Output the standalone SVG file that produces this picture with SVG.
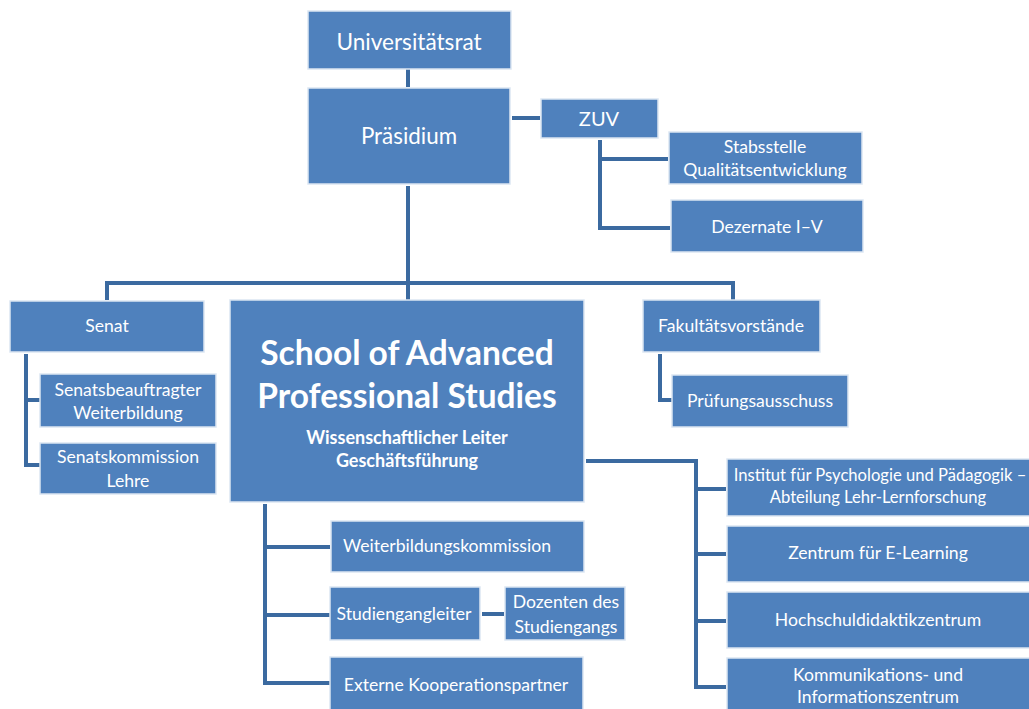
<svg xmlns="http://www.w3.org/2000/svg" width="1029" height="709" viewBox="0 0 1029 709">
<style>
.box{fill:#4F81BD;stroke:#DCE6F2;stroke-width:1.5}
.t{font-family:Lato,"Open Sans","Noto Sans",sans-serif;fill:#FFFFFF;text-anchor:middle}
.s{font-size:17.6px}
.l{stroke:#3B6AA0;stroke-width:4;fill:none}
</style>
<rect width="1029" height="709" fill="#FFFFFF"/>
<g id="connectors">
<path class="l" d="M408 69V87"/>
<path class="l" d="M512 118H540"/>
<path class="l" d="M600 140V228H670M600 159H668"/>
<path class="l" d="M408 186V300M107 300V283H733V300"/>
<path class="l" d="M26 354V465H40M26 400H40"/>
<path class="l" d="M660 354V400H672"/>
<path class="l" d="M586 461H696V687H726M696 489H726M696 554H726M696 621H726"/>
<path class="l" d="M265 504V683H330M265 547H330M265 615H330"/>
<path class="l" d="M482 614H504"/>
</g>
<g id="universitaetsrat"><rect class="box" x="308" y="11" width="203" height="58"/><text class="t" x="409" y="50" font-size="22.6">Universitätsrat</text></g>
<g id="praesidium"><rect class="box" x="308" y="88" width="202" height="96"/><text class="t" x="409" y="144" font-size="22.4">Präsidium</text></g>
<g id="zuv"><rect class="box" x="541" y="99" width="117" height="39"/><text class="t" x="599" y="126" font-size="20">ZUV</text></g>
<g id="stabsstelle"><rect class="box" x="669" y="132" width="193" height="52"/><text class="t s" x="765" y="153">Stabsstelle</text><text class="t s" x="765" y="176">Qualitätsentwicklung</text></g>
<g id="dezernate"><rect class="box" x="671" y="200" width="192" height="52"/><text class="t s" x="767" y="233">Dezernate I–V</text></g>
<g id="senat"><rect class="box" x="10" y="301" width="194" height="51"/><text class="t s" x="107" y="332">Senat</text></g>
<g id="senatsbeauftragter"><rect class="box" x="40" y="374" width="176" height="53"/><text class="t s" x="128" y="396">Senatsbeauftragter</text><text class="t s" x="128" y="419">Weiterbildung</text></g>
<g id="senatskommission"><rect class="box" x="40" y="443" width="176" height="51"/><text class="t s" x="128" y="463">Senatskommission</text><text class="t s" x="128" y="487">Lehre</text></g>
<g id="school"><rect class="box" x="230" y="300" width="354" height="202"/>
<text class="t" x="407" y="365" font-size="33.5" font-weight="bold">School of Advanced</text>
<text class="t" x="407" y="408" font-size="33.5" font-weight="bold">Professional Studies</text>
<text class="t" x="407" y="444" font-size="18" font-weight="bold">Wissenschaftlicher Leiter</text>
<text class="t" x="407" y="467" font-size="18" font-weight="bold">Geschäftsführung</text></g>
<g id="fakultaetsvorstaende"><rect class="box" x="643" y="300" width="177" height="52"/><text class="t s" x="731" y="332">Fakultätsvorstände</text></g>
<g id="pruefungsausschuss"><rect class="box" x="672" y="375" width="176" height="52"/><text class="t s" x="760" y="407">Prüfungsausschuss</text></g>
<g id="institut"><rect class="box" x="727" y="459" width="303" height="57"/><text class="t" x="880" y="481" font-size="16.6">Institut für Psychologie und Pädagogik –</text><text class="t" x="878" y="503" font-size="16.6">Abteilung Lehr-Lernforschung</text></g>
<g id="elearning"><rect class="box" x="727" y="526" width="303" height="56"/><text class="t s" x="878" y="559">Zentrum für E-Learning</text></g>
<g id="hochschuldidaktik"><rect class="box" x="727" y="592" width="303" height="56"/><text class="t s" x="878" y="626">Hochschuldidaktikzentrum</text></g>
<g id="kommunikation"><rect class="box" x="727" y="658" width="303" height="56"/><text class="t s" x="878" y="681">Kommunikations- und</text><text class="t s" x="878" y="703">Informationszentrum</text></g>
<g id="weiterbildungskommission"><rect class="box" x="331" y="521" width="253" height="51"/><text class="t s" x="447" y="552">Weiterbildungskommission</text></g>
<g id="studiengangleiter"><rect class="box" x="330" y="587" width="150" height="53"/><text class="t s" x="404" y="620">Studiengangleiter</text></g>
<g id="dozenten"><rect class="box" x="505" y="587" width="120" height="53"/><text class="t s" x="566" y="608">Dozenten des</text><text class="t s" x="566" y="633">Studiengangs</text></g>
<g id="externe"><rect class="box" x="330" y="657" width="253" height="56"/><text class="t s" x="456" y="691">Externe Kooperationspartner</text></g>
</svg>
